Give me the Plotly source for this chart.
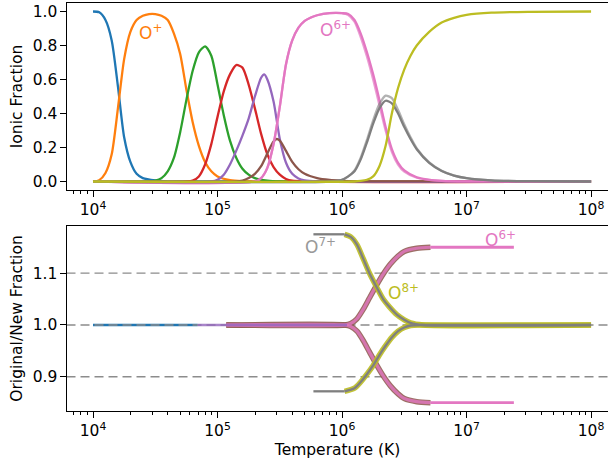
import plotly.graph_objects as go

# ---------------- data (log10 T [K] and values) ----------------
o0_logT = [4.0, 4.05, 4.1, 4.15, 4.2, 4.25, 4.3, 4.35, 4.4, 4.5, 4.6, 4.8, 8.0]
o0_frac = [1.0, 0.995, 0.95, 0.83, 0.56, 0.26, 0.115, 0.045, 0.02, 0.006, 0.001, 0.0, 0.0]

o1_logT = [4.0, 4.05, 4.1, 4.15, 4.2, 4.25, 4.3, 4.35, 4.4, 4.45, 4.5, 4.55, 4.6, 4.65,
           4.7, 4.75, 4.8, 4.85, 4.9, 4.95, 5.0, 5.1, 5.2, 5.4, 8.0]
o1_frac = [0.0, 0.008, 0.05, 0.16, 0.43, 0.72, 0.88, 0.95, 0.975, 0.985, 0.985, 0.975, 0.95, 0.87,
           0.75, 0.54, 0.35, 0.21, 0.115, 0.06, 0.03, 0.008, 0.002, 0.0, 0.0]

o2_logT = [4.0, 4.45, 4.5, 4.55, 4.6, 4.65, 4.7, 4.75, 4.8, 4.85, 4.9, 4.95, 5.0, 5.05, 5.1,
           5.15, 5.2, 5.25, 5.3, 5.4, 5.5, 8.0]
o2_frac = [0.0, 0.0, 0.005, 0.02, 0.06, 0.14, 0.29, 0.48, 0.65, 0.76, 0.795, 0.74, 0.57, 0.39, 0.24,
           0.14, 0.075, 0.04, 0.02, 0.005, 0.0, 0.0]

o3_logT = [4.0, 4.75, 4.8, 4.85, 4.9, 4.95, 5.0, 5.05, 5.1, 5.15, 5.2, 5.25, 5.3, 5.35, 5.4,
           5.45, 5.5, 5.55, 5.6, 8.0]
o3_frac = [0.0, 0.0, 0.005, 0.03, 0.1, 0.22, 0.38, 0.53, 0.63, 0.685, 0.67, 0.57, 0.43, 0.28, 0.16,
           0.085, 0.04, 0.015, 0.005, 0.0]

o4_logT = [4.0, 4.95, 5.0, 5.05, 5.1, 5.15, 5.2, 5.25, 5.3, 5.35, 5.375, 5.4, 5.45, 5.5, 5.55,
           5.6, 5.65, 5.7, 5.8, 8.0]
o4_frac = [0.0, 0.0, 0.01, 0.04, 0.1, 0.18, 0.27, 0.37, 0.5, 0.61, 0.63, 0.6, 0.47, 0.25, 0.11,
           0.045, 0.018, 0.007, 0.001, 0.0]

o5_logT = [4.0, 5.15, 5.2, 5.25, 5.3, 5.35, 5.4, 5.45, 5.475, 5.5, 5.55, 5.6, 5.65, 5.7, 5.8,
           5.9, 6.0, 6.1, 8.0]
o5_frac = [0.0, 0.0, 0.005, 0.02, 0.045, 0.09, 0.165, 0.235, 0.25, 0.24, 0.18, 0.115, 0.072, 0.045, 0.02,
           0.009, 0.004, 0.001, 0.0]

o6_logT = [4.0, 5.3, 5.35, 5.4, 5.45, 5.5, 5.55, 5.6, 5.65, 5.7, 5.75, 5.8, 5.9, 6.0, 6.05, 6.1,
           6.15, 6.2, 6.25, 6.3, 6.35, 6.4, 6.45, 6.5, 6.6, 6.7, 6.8, 7.0, 8.0]
o6_frac = [0.0, 0.0, 0.02, 0.08, 0.22, 0.44, 0.69, 0.83, 0.905, 0.945, 0.965, 0.978, 0.99, 0.99, 0.985, 0.95,
           0.87, 0.76, 0.63, 0.48, 0.32, 0.19, 0.11, 0.065, 0.025, 0.01, 0.004, 0.001, 0.0]
o6_frac_alt = [0.0, 0.0, 0.02, 0.08, 0.22, 0.44, 0.69, 0.83, 0.905, 0.945, 0.965, 0.978, 0.99, 0.99, 0.98, 0.94,
               0.85, 0.735, 0.6, 0.45, 0.3, 0.175, 0.1, 0.058, 0.022, 0.009, 0.004, 0.001, 0.0]

o7_logT = [4.0, 5.9, 6.0, 6.05, 6.1, 6.15, 6.2, 6.25, 6.3, 6.35, 6.4, 6.45, 6.5, 6.55, 6.6,
           6.7, 6.8, 6.9, 7.0, 7.2, 7.5, 8.0]
o7_frac = [0.0, 0.0, 0.01, 0.03, 0.06, 0.13, 0.23, 0.34, 0.43, 0.475, 0.46, 0.4, 0.32, 0.25, 0.19,
           0.11, 0.062, 0.035, 0.02, 0.007, 0.002, 0.0]
o7_frac_alt = [0.0, 0.0, 0.01, 0.03, 0.065, 0.14, 0.245, 0.36, 0.455, 0.505, 0.49, 0.42, 0.335, 0.26, 0.195,
               0.112, 0.063, 0.035, 0.02, 0.007, 0.002, 0.0]

o8_logT = [4.0, 6.1, 6.15, 6.2, 6.25, 6.3, 6.35, 6.4, 6.45, 6.5, 6.55, 6.6, 6.7, 6.8, 6.9,
           7.0, 7.2, 7.5, 8.0]
o8_frac = [0.0, 0.0, 0.003, 0.01, 0.03, 0.09, 0.21, 0.4, 0.55, 0.66, 0.74, 0.8, 0.88, 0.935, 0.963,
           0.98, 0.993, 0.998, 1.0]

# ratio (original / new) curves, bottom panel
r_o0_logT = [4.0, 4.84]
r_o0 = [1.0, 1.0]
r_o4_logT = [4.84, 6.04]
r_o4 = [1.0, 1.0]
r_o6_up_logT = [5.07, 6.02, 6.07, 6.12, 6.17, 6.22, 6.28, 6.33, 6.39, 6.45, 6.5, 6.6, 6.71]
r_o6_up = [1.0, 1.0, 1.003, 1.012, 1.03, 1.052, 1.078, 1.098, 1.118, 1.133, 1.142, 1.148, 1.15]
r_o6_dn = [1.0, 1.0, 0.997, 0.988, 0.97, 0.948, 0.922, 0.902, 0.882, 0.867, 0.858, 0.852, 0.85]
r_o6_tail_logT = [6.71, 7.38]
r_o6_tail_up = [1.15, 1.15]
r_o6_tail_dn = [0.85, 0.85]
r_o7_up_logT = [5.77, 6.02]
r_o7_up = [1.175, 1.175]
r_o7_dn = [0.872, 0.872]
r_o8_up_logT = [6.02, 6.07, 6.12, 6.17, 6.22, 6.28, 6.33, 6.38, 6.44, 6.5, 6.55, 6.65, 8.0]
r_o8_up = [1.175, 1.17, 1.155, 1.128, 1.1, 1.072, 1.05, 1.035, 1.02, 1.01, 1.004, 1.0, 1.0]
r_o8_dn_logT = [6.02, 6.1, 6.15, 6.2, 6.25, 6.3, 6.35, 6.4, 6.45, 6.5, 6.55, 6.65, 8.0]
r_o8_dn = [0.872, 0.878, 0.89, 0.905, 0.922, 0.942, 0.96, 0.976, 0.988, 0.995, 0.999, 1.0, 1.0]
ref_levels = [0.9, 1.0, 1.1]

major_ticks = [1e4, 1e5, 1e6, 1e7, 1e8]
major_text = ["10<sup>4</sup>", "10<sup>5</sup>", "10<sup>6</sup>", "10<sup>7</sup>", "10<sup>8</sup>"]
minor_ticks = [m * 10 ** d for d in range(3, 9) for m in range(2, 10)]
frac_ticks = [0.0, 0.2, 0.4, 0.6, 0.8, 1.0]
frac_text = ["0.0", "0.2", "0.4", "0.6", "0.8", "1.0"]
ratio_ticks = [0.9, 1.0, 1.1]
ratio_text = ["0.9", "1.0", "1.1"]

C = {"blue": "#1f77b4", "orange": "#ff7f0e", "green": "#2ca02c", "red": "#d62728",
     "purple": "#9467bd", "brown": "#8c564b", "pink": "#e377c2", "grey": "#7f7f7f",
     "olive": "#bcbd22"}

LW = 2.3


def T(logs):
    return [10 ** v for v in logs]


fig = go.Figure()


def top(lx, ly, color, width=LW, opacity=1.0):
    fig.add_trace(go.Scatter(x=T(lx), y=ly, mode="lines", opacity=opacity,
                             line=dict(color=color, width=width, shape="spline", smoothing=0.7),
                             xaxis="x", yaxis="y", showlegend=False, hoverinfo="skip"))


def bot(lx, ly, color, width=LW, opacity=1.0, dash=None, spline=True):
    fig.add_trace(go.Scatter(x=T(lx), y=ly, mode="lines", opacity=opacity,
                             line=dict(color=color, width=width, dash=dash,
                                       shape="spline" if spline else "linear", smoothing=0.7),
                             xaxis="x2", yaxis="y2", showlegend=False, hoverinfo="skip"))


top(o0_logT, o0_frac, C["blue"])
top(o1_logT, o1_frac, C["orange"])
top(o2_logT, o2_frac, C["green"])
top(o3_logT, o3_frac, C["red"])
top(o4_logT, o4_frac, C["purple"])
top(o5_logT, o5_frac, C["brown"])
top(o6_logT, o6_frac_alt, C["pink"], LW, 0.7)
top(o6_logT, o6_frac, C["pink"])
top(o7_logT, o7_frac_alt, C["grey"], LW, 0.6)
top(o7_logT, o7_frac, C["grey"])
top(o8_logT, o8_frac, C["olive"])

# bottom panel
bot(r_o0_logT, r_o0, C["blue"], LW)
for lv in ref_levels:
    bot([3.0, 9.0], [lv, lv], "#8c8c8c", 1.4, 1.0, dash="9px,5px", spline=False)
bot(r_o6_up_logT, r_o6_up, C["brown"], 5.5, 0.85)
bot(r_o6_up_logT, r_o6_dn, C["brown"], 5.5, 0.85)
bot(r_o6_up_logT, r_o6_up, C["pink"], 3.2, 0.8)
bot(r_o6_up_logT, r_o6_dn, C["pink"], 3.2, 0.8)
bot(r_o6_tail_logT, r_o6_tail_up, C["pink"], 2.8, 1.0, spline=False)
bot(r_o6_tail_logT, r_o6_tail_dn, C["pink"], 2.8, 1.0, spline=False)
bot(r_o4_logT, r_o4, C["purple"], LW, 0.8, spline=False)
bot(r_o8_up_logT, r_o8_up, C["olive"], 5.5, 0.9)
bot(r_o8_dn_logT, r_o8_dn, C["olive"], 5.5, 0.9)
bot(r_o7_up_logT, r_o7_up, C["grey"], LW, spline=False)
bot(r_o7_up_logT, r_o7_dn, C["grey"], LW, spline=False)
bot(r_o8_up_logT, r_o8_up, C["grey"], LW)
bot(r_o8_dn_logT, r_o8_dn, C["grey"], LW)

font = dict(family="DejaVu Sans", size=15.5, color="black")
xcommon = dict(type="log", range=[3.791, 8.136], tickvals=major_ticks, ticktext=major_text,
               ticks="outside", ticklen=5.5, tickwidth=1.1, tickcolor="black",
               showline=True, linecolor="black", linewidth=1.1, mirror=True,
               showgrid=False, zeroline=False, tickfont=font, automargin=False,
               minor=dict(tickvals=minor_ticks, ticks="outside", ticklen=3.2, tickwidth=0.9,
                          tickcolor="black", showgrid=False))
ycommon = dict(ticks="outside", ticklen=5.5, tickwidth=1.1, tickcolor="black",
               showline=True, linecolor="black", linewidth=1.1, mirror=False,
               showgrid=False, zeroline=False, tickfont=font, automargin=False)

fig.update_layout(
    width=608, height=465,
    margin=dict(l=67, r=0, t=3, b=54),
    paper_bgcolor="white", plot_bgcolor="white",
    font=font,
    xaxis=dict(domain=[0, 1], anchor="y", **xcommon),
    yaxis=dict(domain=[0.5417, 1.0], anchor="x", range=[-0.05, 1.05], tickvals=frac_ticks,
               ticktext=frac_text, title=dict(text="Ionic Fraction", font=font, standoff=6),
               **ycommon),
    xaxis2=dict(domain=[0, 1], anchor="y2",
                title=dict(text="Temperature (K)", font=font, standoff=4), **xcommon),
    yaxis2=dict(domain=[0.0, 0.4534], anchor="x2", range=[0.834, 1.191], tickvals=ratio_ticks,
                ticktext=ratio_text, title=dict(text="Original/New Fraction", font=font, standoff=6),
                **ycommon),
)

lab = dict(size=17, family="DejaVu Sans")
fig.add_annotation(x=4.458, y=0.88, xref="x", yref="y", text="O<sup>+</sup>", showarrow=False,
                   font=dict(color=C["orange"], **lab))
fig.add_annotation(x=5.944, y=0.895, xref="x", yref="y", text="O<sup>6+</sup>", showarrow=False,
                   font=dict(color=C["pink"], **lab))
fig.add_annotation(x=5.83, y=1.152, xref="x2", yref="y2", text="O<sup>7+</sup>", showarrow=False,
                   font=dict(color="#999999", **lab))
fig.add_annotation(x=6.49, y=1.064, xref="x2", yref="y2", text="O<sup>8+</sup>", showarrow=False,
                   font=dict(color=C["olive"], **lab))
fig.add_annotation(x=7.27, y=1.165, xref="x2", yref="y2", text="O<sup>6+</sup>", showarrow=False,
                   font=dict(color=C["pink"], **lab))

fig.write_html("out.html", config={"displayModeBar": False},
               post_script="document.body.style.margin='0px';document.body.style.overflow='hidden';")
